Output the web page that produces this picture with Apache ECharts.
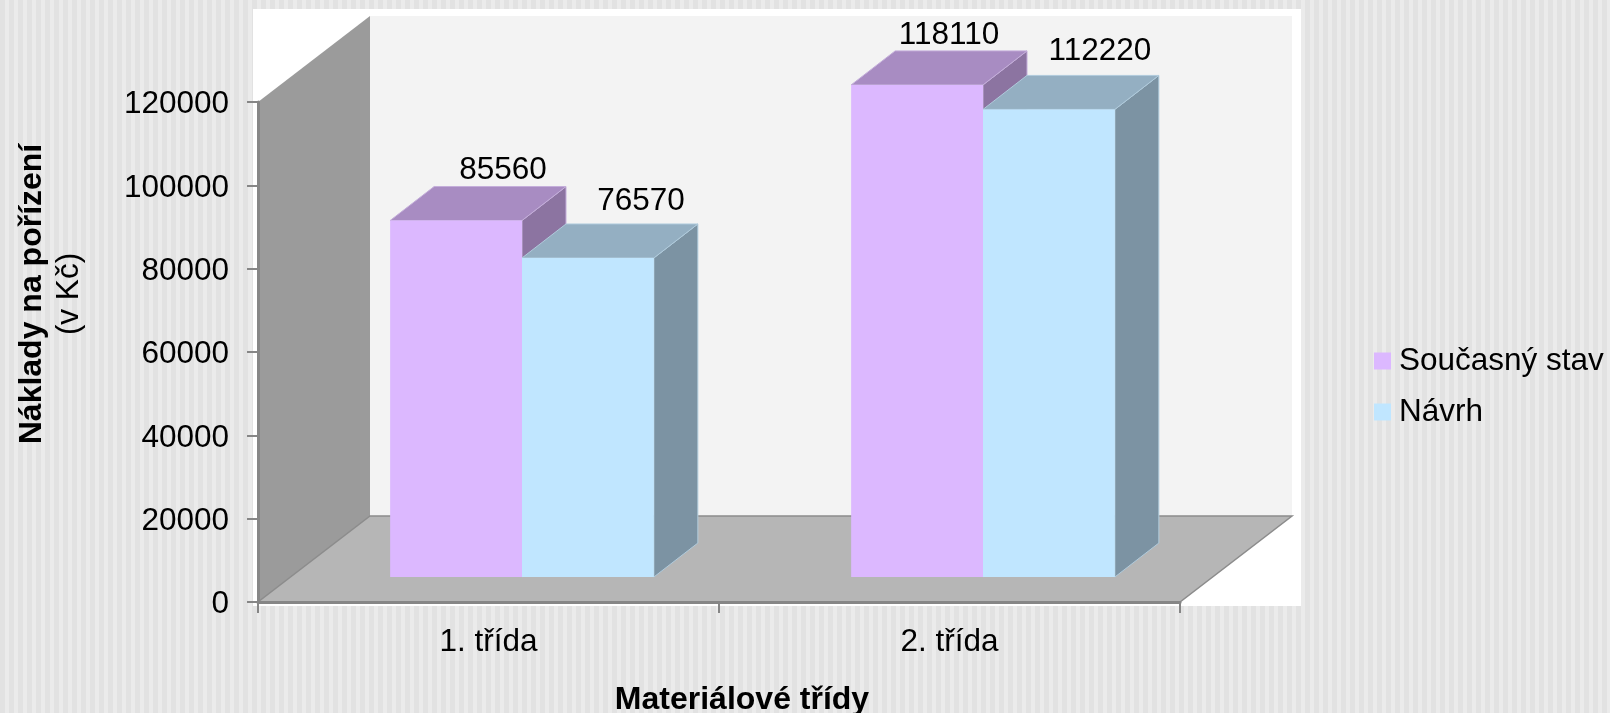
<!DOCTYPE html>
<html>
<head>
<meta charset="utf-8">
<style>
  html, body { margin: 0; padding: 0; width: 100%; height: 100%; overflow: hidden; }
  body { background: repeating-linear-gradient(90deg, #e2e2e2 0, #e2e2e2 5px, #ebebeb 5px, #ebebeb 9px); }
  #chart { width: 1610px; height: 713px; }
</style>
<script src="https://cdn.jsdelivr.net/npm/echarts@6/dist/echarts.min.js"></script>
</head>
<body>
<div id="chart"></div>
<script>
var categories = ["1. třída", "2. třída"];
var seriesNames = ["Současný stav", "Návrh"];
var soucasnyStav = [85560, 118110];
var navrh = [76570, 112220];
var yTicks = [0, 20000, 40000, 60000, 80000, 100000, 120000];

var FONT = '"Liberation Sans", Arial, sans-serif';

// depth of the fake 3D box, in px
var WALL_DX = 112, WALL_DY = -86;
var BAR_DX = 44, BAR_DY = -34;
var BAR_SHIFT_X = 33.5, BAR_SHIFT_Y = -25; // bars stand in the middle of the floor
var BAR_RATIO = 0.286;

var faces = [
  { front: "#dcb8ff", top: "#a88cc2", side: "#8c74a1", edge: "#c4aeda", labelDx: [47, 32], labelDy: [-16, -16] },
  { front: "#c0e6ff", top: "#94afc2", side: "#7c93a3", edge: "#b0cbdc", labelDx: [53, 51], labelDy: [-23, -24] }
];

function renderWalls(params, api) {
  var c = params.coordSys;
  var x0 = c.x, x1 = c.x + c.width, y0 = c.y, y1 = c.y + c.height;
  return {
    type: "group",
    children: [
      {
        type: "rect", silent: true,
        shape: { x: x0 + WALL_DX, y: y0 + WALL_DY, width: c.width, height: c.height },
        style: { fill: "#f3f3f3" }
      },
      {
        type: "polygon", silent: true,
        shape: { points: [[x0, y0], [x0 + WALL_DX, y0 + WALL_DY], [x0 + WALL_DX, y1 + WALL_DY], [x0, y1]] },
        style: { fill: "#9b9b9b" }
      },
      {
        type: "polygon", silent: true,
        shape: { points: [[x0, y1], [x1, y1], [x1 + WALL_DX, y1 + WALL_DY], [x0 + WALL_DX, y1 + WALL_DY]] },
        style: { fill: "#b6b6b6", stroke: "#8c8c8c", lineWidth: 1.5 }
      }
    ]
  };
}

function barRenderer(seriesIndex) {
  var f = faces[seriesIndex];
  return function (params, api) {
    var i = api.value(0);
    var val = api.value(1);
    var base = api.coord([i, 0]);
    var head = api.coord([i, val]);
    var w = api.size([1, 0])[0] * BAR_RATIO;
    var left = base[0] + BAR_SHIFT_X - w + seriesIndex * w;
    var right = left + w;
    var bottom = base[1] + BAR_SHIFT_Y;
    var top = head[1] + BAR_SHIFT_Y;
    return {
      type: "group",
      children: [
        {
          type: "polygon",
          shape: { points: [[right, top], [right + BAR_DX, top + BAR_DY], [right + BAR_DX, bottom + BAR_DY], [right, bottom]] },
          style: { fill: f.side, stroke: f.edge, lineWidth: 1 }
        },
        {
          type: "polygon",
          shape: { points: [[left, top], [left + BAR_DX, top + BAR_DY], [right + BAR_DX, top + BAR_DY], [right, top]] },
          style: { fill: f.top, stroke: f.edge, lineWidth: 1 }
        },
        {
          type: "rect",
          shape: { x: left, y: top, width: w, height: bottom - top },
          style: { fill: f.front }
        },
        {
          type: "text",
          style: {
            x: (left + right) / 2 + f.labelDx[i],
            y: top + BAR_DY + f.labelDy[i],
            text: String(val),
            fill: "#000",
            font: "31.5px " + FONT,
            textAlign: "center",
            textVerticalAlign: "middle"
          }
        }
      ]
    };
  };
}

function toPoints(values) {
  return values.map(function (v, i) { return [i, v]; });
}

var chart = echarts.init(document.getElementById("chart"), null, { renderer: "canvas" });

chart.setOption({
  animation: false,
  backgroundColor: "transparent",
  textStyle: { fontFamily: FONT },
  graphic: [
    // white plot panel behind the box
    { type: "rect", z: 0, silent: true, shape: { x: 253, y: 9, width: 1048, height: 597 }, style: { fill: "#fff" } }
  ],
  legend: {
    data: seriesNames,
    orient: "vertical",
    left: 1374,
    top: 345,
    padding: 0,
    itemWidth: 17,
    itemHeight: 17,
    itemGap: 19,
    icon: "rect",
    selectedMode: false,
    textStyle: { color: "#000", fontSize: 31.5, fontFamily: FONT, padding: [0, 0, 0, 3] }
  },
  grid: { left: 258, top: 102, width: 922, height: 500, containLabel: false, outerBoundsMode: "none" },
  xAxis: {
    type: "category",
    data: categories,
    z: 5,
    axisLine: { lineStyle: { color: "#868686", width: 3 } },
    axisTick: { show: true, length: 11, lineStyle: { color: "#868686", width: 2 } },
    axisLabel: { color: "#000", fontSize: 31.5, fontFamily: FONT, margin: 24 },
    name: "Materiálové třídy",
    nameLocation: "middle",
    nameGap: 82,
    nameTextStyle: { color: "#000", fontSize: 32, fontWeight: "bold", fontFamily: FONT, padding: [0, 0, 0, 46] }
  },
  yAxis: {
    type: "value",
    min: yTicks[0],
    max: yTicks[yTicks.length - 1],
    interval: yTicks[1] - yTicks[0],
    z: 5,
    splitLine: { show: false },
    axisLine: { show: true, lineStyle: { color: "#868686", width: 3 } },
    axisTick: { show: true, length: 11, lineStyle: { color: "#868686", width: 2 } },
    axisLabel: {
      color: "#000",
      fontSize: 31.5,
      fontFamily: FONT,
      margin: 29,
      formatter: function (v) { return "{v|" + v + "}"; },
      rich: { v: { fontSize: 31.5, fontFamily: FONT, color: "#000", padding: [5, 0, 0, 0] } }
    },
    name: "{b|Náklady na pořízení}\n{n|(v Kč)}",
    nameLocation: "middle",
    nameGap: 170,
    nameRotate: 90,
    nameTextStyle: {
      color: "#000",
      padding: [0, 0, 0, 116],
      rich: {
        b: { fontSize: 32, fontWeight: "bold", fontFamily: FONT, lineHeight: 37, color: "#000" },
        n: { fontSize: 31.5, fontFamily: FONT, lineHeight: 37, color: "#000" }
      }
    }
  },
  series: [
    { type: "custom", name: "walls", z: 1, silent: true, renderItem: renderWalls, data: [[0, 0]], encode: { x: 0, y: 1 } },
    { type: "custom", name: seriesNames[0], z: 2, itemStyle: { color: faces[0].front }, renderItem: barRenderer(0), data: toPoints(soucasnyStav), encode: { x: 0, y: 1 } },
    { type: "custom", name: seriesNames[1], z: 2, itemStyle: { color: faces[1].front }, renderItem: barRenderer(1), data: toPoints(navrh), encode: { x: 0, y: 1 } }
  ]
});
</script>
</body>
</html>
